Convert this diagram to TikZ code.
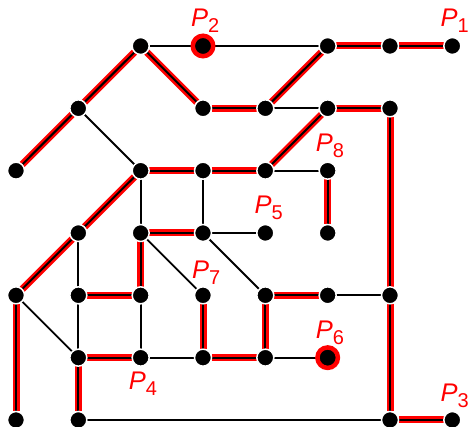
\documentclass[tikz,border=0pt]{standalone}
\usepackage{fontspec}
\setmainfont{Liberation Sans}
\usetikzlibrary{backgrounds}
\tikzset{
  dot/.style={circle,fill=black,draw=white,line width=1.5pt,minimum size=17pt,inner sep=0pt,outer sep=0pt},
  bigdot/.style={circle,fill=black,draw=red,line width=4.5pt,minimum size=20.5pt,inner sep=0pt,outer sep=0pt},
  plain/.style={draw=black,line width=1.8pt},
  hi/.style={draw=black,line width=2pt,preaction={draw=red,line width=7pt}},
  lab/.style={text=red,anchor=base west,inner sep=0pt,font=\fontsize{25.5}{25.5}\selectfont}
}
\newcommand{\plab}[1]{\textit{P}\raisebox{-6pt}{\fontsize{20}{20}\selectfont #1}}
\begin{document}
\begin{tikzpicture}[x=1pt,y=-1pt]
\useasboundingbox (0,0) rectangle (469,427);
% columns / rows
\def\xa{16}\def\xb{78.33}\def\xc{140.67}\def\xd{203}\def\xe{265.33}\def\xf{327.67}\def\xg{390}\def\xh{452.33}
\def\ya{46}\def\yb{108.33}\def\yc{170.67}\def\yd{233}\def\ye{295.33}\def\yf{357.67}\def\yg{420}
% row 1
\node[dot] (c1) at (\xc,\ya) {};
\node[bigdot] (d1) at (\xd,\ya) {};
\node[dot] (f1) at (\xf,\ya) {};
\node[dot] (g1) at (\xg,\ya) {};
\node[dot] (h1) at (\xh,\ya) {};
% row 2
\node[dot] (b2) at (\xb,\yb) {};
\node[dot] (d2) at (\xd,\yb) {};
\node[dot] (e2) at (\xe,\yb) {};
\node[dot] (f2) at (\xf,\yb) {};
\node[dot] (g2) at (\xg,\yb) {};
% row 3
\node[dot] (a3) at (\xa,\yc) {};
\node[dot] (c3) at (\xc,\yc) {};
\node[dot] (d3) at (\xd,\yc) {};
\node[dot] (e3) at (\xe,\yc) {};
\node[dot] (f3) at (\xf,\yc) {};
% row 4
\node[dot] (b4) at (\xb,\yd) {};
\node[dot] (c4) at (\xc,\yd) {};
\node[dot] (d4) at (\xd,\yd) {};
\node[dot] (e4) at (\xe,\yd) {};
\node[dot] (f4) at (\xf,\yd) {};
% row 5
\node[dot] (a5) at (\xa,\ye) {};
\node[dot] (b5) at (\xb,\ye) {};
\node[dot] (c5) at (\xc,\ye) {};
\node[dot] (d5) at (\xd,\ye) {};
\node[dot] (e5) at (\xe,\ye) {};
\node[dot] (f5) at (\xf,\ye) {};
\node[dot] (g5) at (\xg,\ye) {};
% row 6
\node[dot] (b6) at (\xb,\yf) {};
\node[dot] (c6) at (\xc,\yf) {};
\node[dot] (d6) at (\xd,\yf) {};
\node[dot] (e6) at (\xe,\yf) {};
\node[bigdot] (f6) at (\xf,\yf) {};
% row 7
\node[dot] (a7) at (\xa,\yg) {};
\node[dot] (b7) at (\xb,\yg) {};
\node[dot] (g7) at (\xg,\yg) {};
\node[dot] (h7) at (\xh,\yg) {};
% labels
\node[lab] (l1) at (\xh-12,\ya-19) {\plab{1}};
\node[lab] (l2) at (\xd-12,\ya-19) {\plab{2}};
\node[lab] (l3) at (\xh-12,\yg-18) {\plab{3}};
\node[lab] (l4) at (\xc-12,\yf+32) {\plab{4}};
\node[lab] (l5) at (\xe-11,\yd-19) {\plab{5}};
\node[lab] (l6) at (\xf-12,\yf-19.5) {\plab{6}};
\node[lab] (l7) at (\xd-11,\ye-16.5) {\plab{7}};
\node[lab] (l8) at (\xf-12,\yc-18.7) {\plab{8}};
\begin{pgfonlayer}{background}
% plain edges
\foreach \u/\v in {c1/d1,d1/f1,e2/f2,b2/c3,e3/f3,c3/c4,d3/d4,d4/e4,c5/c6,c4/d5,d4/e5,b4/b5,b5/b6,a5/b6,c6/d6,f5/g5,e6/f6,b7/g7}
  \draw[plain] (\u) -- (\v);
% highlighted edges
\foreach \u/\v in {f1/g1,g1/h1,c1/b2,b2/a3,c1/d2,d2/e2,e2/f1,f2/g2,g2/g5,g5/g7,g7/h7,c3/d3,d3/e3,e3/f2,f3/f4,c3/b4,b4/a5,c4/d4,c4/c5,b5/c5,a5/a7,b6/c6,d6/e6,d5/d6,e5/e6,e5/f5,b6/b7}
  \draw[hi] (\u) -- (\v);
\end{pgfonlayer}
\end{tikzpicture}
\end{document}
